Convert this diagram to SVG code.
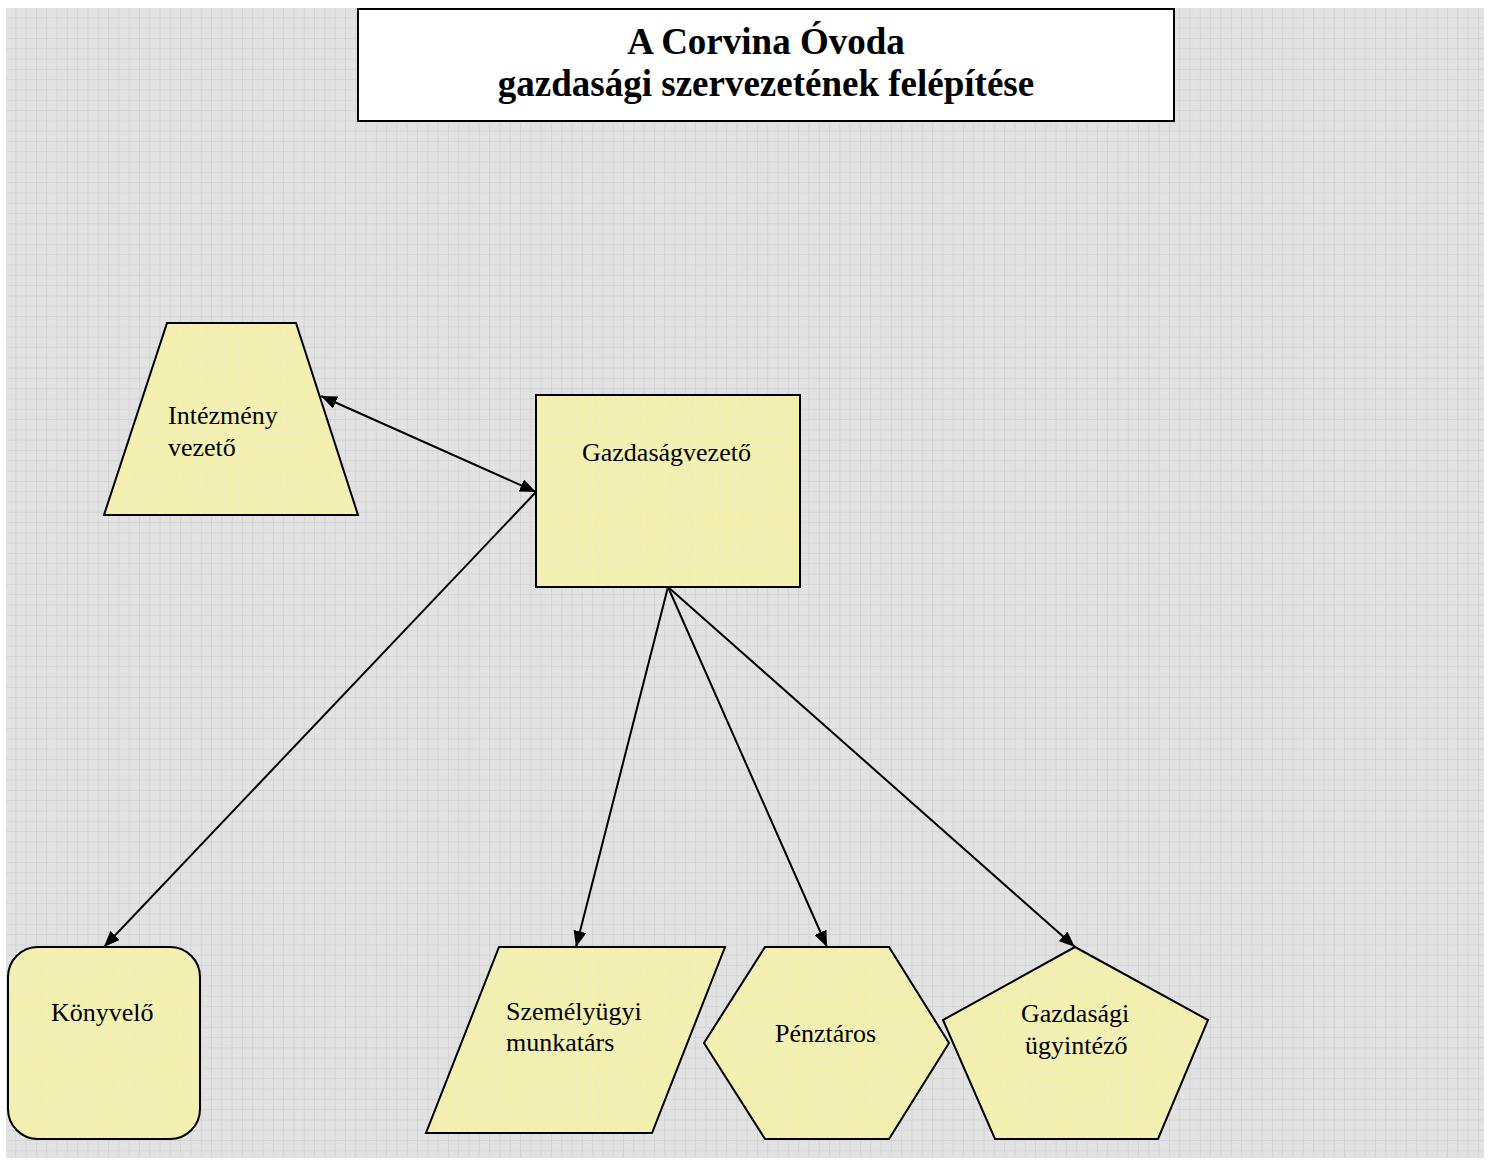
<svg xmlns="http://www.w3.org/2000/svg" width="1491" height="1160" viewBox="0 0 1491 1160">
<defs>
<pattern id="bg" x="6" y="8" width="10.3" height="10.3" patternUnits="userSpaceOnUse">
<rect width="10.3" height="10.3" fill="#e2e2e2"/>
<path d="M10.3 0 V10.3 M0 10.3 H10.3" stroke="#c8c8c8" stroke-width="1" fill="none"/>
</pattern>
<pattern id="yel" x="6" y="8" width="10.3" height="10.3" patternUnits="userSpaceOnUse">
<rect width="10.3" height="10.3" fill="#f2efb5"/>
<path d="M10.3 0 V10.3 M0 10.3 H10.3" stroke="#f9f69c" stroke-width="1" fill="none"/>
</pattern>
<marker id="ah" markerUnits="userSpaceOnUse" markerWidth="17" markerHeight="13" refX="16" refY="6.5" orient="auto-start-reverse" viewBox="0 0 17 13">
<path d="M0 0 L16 6.5 L0 13 Z" fill="#000"/>
</marker>
</defs>
<style>
.node{fill:url(#yel);stroke:#000;stroke-width:2}
.t{font-family:"Liberation Serif","Times New Roman",serif;font-size:26px;fill:#000}
.title{font-family:"Liberation Serif","Times New Roman",serif;font-size:37px;font-weight:bold;fill:#000;text-anchor:middle}
.c{fill:none;stroke:#000;stroke-width:2;marker-end:url(#ah)}
</style>
<rect x="0" y="0" width="1491" height="1160" fill="#fff"/>
<rect x="6" y="8" width="1478" height="1150" fill="url(#bg)"/>

<g id="title">
<rect x="358" y="9" width="816" height="112" fill="#fff" stroke="#000" stroke-width="2"/>
<text class="title" x="766" y="54">A Corvina Óvoda</text>
<text class="title" x="766" y="96">gazdasági szervezetének felépítése</text>
</g>

<g id="intezmenyvezeto">
<polygon class="node" points="167,323 296,323 358,515 104,515"/>
<text class="t" x="168" y="424">Intézmény</text>
<text class="t" x="168" y="456">vezető</text>
</g>

<g id="gazdasagvezeto">
<rect class="node" x="536" y="395" width="264" height="192"/>
<text class="t" x="582" y="461">Gazdaságvezető</text>
</g>

<g id="konyvelo">
<rect class="node" x="8" y="947" width="192" height="192" rx="30" ry="30"/>
<text class="t" x="51" y="1021">Könyvelő</text>
</g>

<g id="szemelyugyi">
<polygon class="node" points="499,947 725,947 652,1133 426,1133"/>
<text class="t" x="506" y="1020">Személyügyi</text>
<text class="t" x="506" y="1051">munkatárs</text>
</g>

<g id="penztaros">
<polygon class="node" points="704,1043 765,947 889,947 949,1043 889,1139 765,1139"/>
<text class="t" x="775" y="1042">Pénztáros</text>
</g>

<g id="gazdasagiugyintezo">
<polygon class="node" points="1075,947 1208,1020 1158,1139 995,1139 943,1020"/>
<text class="t" x="1021" y="1022">Gazdasági</text>
<text class="t" x="1025" y="1054">ügyintéző</text>
</g>

<g id="connectors">
<line class="c" x1="321" y1="396" x2="536" y2="492" marker-start="url(#ah)"/>
<line class="c" x1="536" y1="492" x2="104" y2="947"/>
<line class="c" x1="668" y1="587" x2="576" y2="947"/>
<line class="c" x1="668" y1="587" x2="827" y2="947"/>
<line class="c" x1="668" y1="587" x2="1075" y2="947"/>
</g>
</svg>
